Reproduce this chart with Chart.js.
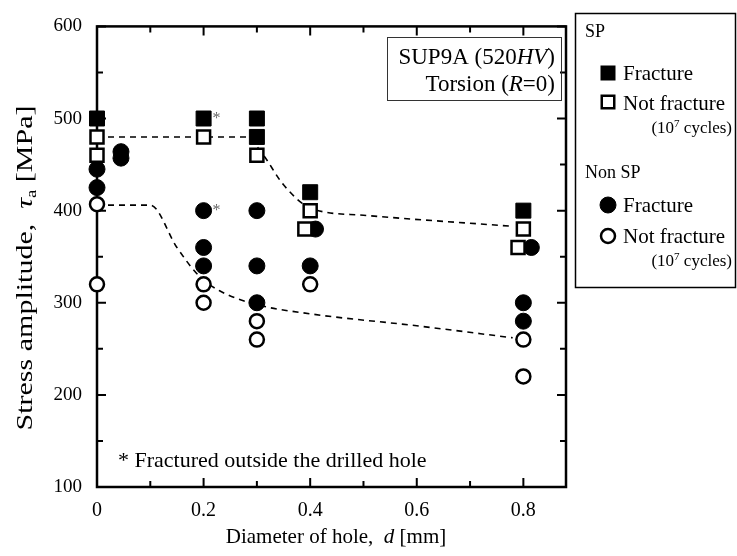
<!DOCTYPE html>
<html>
<head>
<meta charset="utf-8">
<script src="https://cdn.jsdelivr.net/npm/chart.js@4"></script>
<style>
  html, body { margin: 0; padding: 0; background: #fff; }
  #wrap { width: 737px; height: 556px; }
</style>
</head>
<body>
<div id="wrap"><canvas id="fatigueChart" width="737" height="556"></canvas></div>
<script>
// ---- data ----
// SP specimens
const spFracture = [
  { x: 0, y: 500 }, { x: 0.2, y: 500 }, { x: 0.3, y: 500 }, { x: 0.3, y: 480 },
  { x: 0.4, y: 420 }, { x: 0.8, y: 400 }
];
const spNotFracture = [
  { x: 0, y: 480 }, { x: 0, y: 460 }, { x: 0.2, y: 480 }, { x: 0.3, y: 460 },
  { x: 0.4, y: 400 }, { x: 0.39, y: 380 }, { x: 0.8, y: 380 }, { x: 0.79, y: 360 }
];
// Non SP specimens
const nonSpFracture = [
  { x: 0, y: 445 }, { x: 0, y: 425 }, { x: 0.045, y: 464 }, { x: 0.045, y: 457 },
  { x: 0.2, y: 400 }, { x: 0.2, y: 360 }, { x: 0.2, y: 340 },
  { x: 0.3, y: 400 }, { x: 0.3, y: 340 }, { x: 0.3, y: 300 },
  { x: 0.41, y: 380 }, { x: 0.4, y: 340 },
  { x: 0.815, y: 360 }, { x: 0.8, y: 300 }, { x: 0.8, y: 280 }
];
const nonSpNotFracture = [
  { x: 0, y: 407 }, { x: 0, y: 320 }, { x: 0.2, y: 320 }, { x: 0.2, y: 300 },
  { x: 0.3, y: 280 }, { x: 0.3, y: 260 }, { x: 0.4, y: 320 },
  { x: 0.8, y: 260 }, { x: 0.8, y: 220 }
];
// dashed fatigue-limit trend lines
const spLimitLine = [
  { x: 0, y: 480 }, { x: 0.28, y: 480 }, { x: 0.31, y: 462 }, { x: 0.35, y: 428 },
  { x: 0.4, y: 403 }, { x: 0.5, y: 395 }, { x: 0.78, y: 383 }
];
const nonSpLimitLine = [
  { x: 0, y: 406 }, { x: 0.1, y: 406 }, { x: 0.15, y: 360 }, { x: 0.19, y: 330 },
  { x: 0.23, y: 313 }, { x: 0.3, y: 298 }, { x: 0.4, y: 288 }, { x: 0.6, y: 275 },
  { x: 0.78, y: 262 }
];
// points marked with * (fractured outside the drilled hole)
const starredPoints = [{ x: 0.2, y: 500 }, { x: 0.2, y: 400 }];

const xTicks = [0, 0.2, 0.4, 0.6, 0.8];
const xMinorTicks = [0.1, 0.3, 0.5, 0.7];
const yTicks = [100, 200, 300, 400, 500, 600];
const yMinorTicks = [150, 250, 350, 450, 550];

const SERIF = '"Liberation Serif", "DejaVu Serif", serif';

// width of a run of text pieces: [text, fontSpec, dy]
function runsWidth(ctx, runs) {
  let total = 0;
  runs.forEach(r => { ctx.font = r[1]; total += ctx.measureText(r[0]).width; });
  return total;
}

function drawRuns(ctx, runs, x, y, align) {
  const total = runsWidth(ctx, runs);
  let cx = align === 'right' ? x - total : (align === 'center' ? x - total / 2 : x);
  runs.forEach(r => {
    ctx.font = r[1];
    ctx.fillText(r[0], cx, y + (r[2] || 0));
    cx += ctx.measureText(r[0]).width;
  });
}

function drawMarker(ctx, type, x, y) {
  ctx.save();
  ctx.strokeStyle = '#000';
  if (type === 'fsq') {
    ctx.fillStyle = '#000';
    ctx.fillRect(x - 7.5, y - 7.5, 15, 15);
  } else if (type === 'osq') {
    ctx.fillStyle = '#fff';
    ctx.lineWidth = 2.5;
    ctx.fillRect(x - 7.5, y - 7.5, 15, 15);
    ctx.strokeRect(x - 6.25, y - 6.25, 12.5, 12.5);
  } else {
    ctx.beginPath();
    ctx.arc(x, y, type === 'fci' ? 8 : 7, 0, Math.PI * 2);
    ctx.fillStyle = type === 'fci' ? '#000' : '#fff';
    ctx.lineWidth = type === 'fci' ? 1 : 2.5;
    ctx.fill();
    ctx.stroke();
  }
  ctx.restore();
}

// frame with inward ticks, drawn under the markers
const framePlugin = {
  id: 'frame',
  beforeDatasetsDraw(chart) {
    const { ctx, chartArea: a, scales: { x, y } } = chart;
    ctx.save();
    ctx.strokeStyle = '#000';
    ctx.lineWidth = 2.5;
    ctx.strokeRect(a.left, a.top, a.right - a.left, a.bottom - a.top);
    ctx.lineWidth = 2;
    ctx.beginPath();
    const tickX = (v, len) => {
      const px = x.getPixelForValue(v);
      ctx.moveTo(px, a.bottom); ctx.lineTo(px, a.bottom - len);
      ctx.moveTo(px, a.top); ctx.lineTo(px, a.top + len);
    };
    const tickY = (v, len) => {
      const py = y.getPixelForValue(v);
      ctx.moveTo(a.left, py); ctx.lineTo(a.left + len, py);
      ctx.moveTo(a.right, py); ctx.lineTo(a.right - len, py);
    };
    xTicks.forEach(v => tickX(v, 9));
    xMinorTicks.forEach(v => tickX(v, 6));
    yTicks.forEach(v => tickY(v, 9));
    yMinorTicks.forEach(v => tickY(v, 6));
    ctx.stroke();
    ctx.restore();
  },
  afterDraw(chart) {
    const { ctx, scales: { x, y } } = chart;
    ctx.save();
    ctx.fillStyle = '#000';
    ctx.textBaseline = 'alphabetic';

    // axis titles
    drawRuns(ctx, [
      ['Diameter of hole,  ', '21px ' + SERIF],
      ['d', 'italic 21px ' + SERIF],
      [' [mm]', '21px ' + SERIF]
    ], 336, 543, 'center');

    // y title: glyphs in the source are stretched along the text direction
    const yRuns = [
      ['Stress amplitude,  ', '24px ' + SERIF],
      ['\u03c4', 'italic 24px ' + SERIF],
      ['a', '15px ' + SERIF, 4],
      [' [MPa]', '24px ' + SERIF]
    ];
    const stretch = 325 / runsWidth(ctx, yRuns);
    ctx.save();
    ctx.translate(32, 268);
    ctx.rotate(-Math.PI / 2);
    ctx.scale(stretch, 1);
    drawRuns(ctx, yRuns, 0, 0, 'center');
    ctx.restore();

    // asterisks next to starred points
    ctx.fillStyle = '#666';
    ctx.font = '16px ' + SERIF;
    starredPoints.forEach(p => {
      ctx.fillText('*', x.getPixelForValue(p.x) + 9, y.getPixelForValue(p.y) + 4);
    });
    ctx.fillStyle = '#000';

    // footnote
    ctx.font = '22px ' + SERIF;
    ctx.fillText('* Fractured outside the drilled hole', 118, 467);

    // material box
    ctx.lineWidth = 1;
    ctx.strokeStyle = '#333';
    ctx.strokeRect(387.5, 37.5, 174, 63);
    drawRuns(ctx, [
      ['SUP9A (520', '23px ' + SERIF],
      ['HV', 'italic 23px ' + SERIF],
      [')', '23px ' + SERIF]
    ], 555, 64, 'right');
    drawRuns(ctx, [
      ['Torsion (', '23px ' + SERIF],
      ['R', 'italic 23px ' + SERIF],
      ['=0)', '23px ' + SERIF]
    ], 555, 91, 'right');

    // legend box
    ctx.lineWidth = 1.5;
    ctx.strokeStyle = '#000';
    ctx.strokeRect(575.5, 13.5, 160, 274);
    ctx.font = '18px ' + SERIF;
    ctx.fillText('SP', 585, 37);
    ctx.fillText('Non SP', 585, 178);
    const items = [
      ['fsq', 'Fracture', 73, 80, 0],
      ['osq', 'Not fracture', 102, 110, 133],
      ['fci', 'Fracture', 205, 212, 0],
      ['oci', 'Not fracture', 236, 243, 266]
    ];
    items.forEach(it => {
      drawMarker(ctx, it[0], 608, it[2]);
      ctx.font = '21px ' + SERIF;
      ctx.fillText(it[1], 623, it[3]);
      if (it[4]) {
        drawRuns(ctx, [
          ['(10', '17px ' + SERIF],
          ['7', '11px ' + SERIF, -6],
          [' cycles)', '17px ' + SERIF]
        ], 732, it[4], 'right');
      }
    });
    ctx.restore();
  }
};

const scatterCommon = { showLine: false, clip: false, borderColor: '#000' };

new Chart(document.getElementById('fatigueChart'), {
  type: 'scatter',
  data: {
    datasets: [
      Object.assign({ label: 'SP Fracture', data: spFracture, pointStyle: 'rect',
        pointRadius: 10.6, backgroundColor: '#000', borderWidth: 1 }, scatterCommon),
      Object.assign({ label: 'SP Not fracture', data: spNotFracture, pointStyle: 'rect',
        pointRadius: 9.2, backgroundColor: '#fff', borderWidth: 2.5 }, scatterCommon),
      Object.assign({ label: 'Non SP Not fracture', data: nonSpNotFracture, pointStyle: 'circle',
        pointRadius: 7, backgroundColor: '#fff', borderWidth: 2.5 }, scatterCommon),
      Object.assign({ label: 'Non SP Fracture', data: nonSpFracture, pointStyle: 'circle',
        pointRadius: 8, backgroundColor: '#000', borderWidth: 1 }, scatterCommon),
      { type: 'line', label: 'SP limit', data: spLimitLine, borderColor: '#000',
        borderWidth: 1.6, borderDash: [6, 5], pointRadius: 0, fill: false,
        cubicInterpolationMode: 'monotone' },
      { type: 'line', label: 'Non SP limit', data: nonSpLimitLine, borderColor: '#000',
        borderWidth: 1.6, borderDash: [6, 5], pointRadius: 0, fill: false,
        cubicInterpolationMode: 'monotone' }
    ]
  },
  options: {
    responsive: false,
    animation: false,
    devicePixelRatio: 1,
    layout: { padding: { left: 0, top: 17, right: 171, bottom: 0 } },
    plugins: { legend: { display: false }, tooltip: { enabled: false } },
    scales: {
      x: {
        type: 'linear',
        min: 0,
        max: 0.88,
        afterBuildTicks: s => { s.ticks = xTicks.map(v => ({ value: v })); },
        afterFit: s => { s.height = 69; },
        grid: { display: false, drawTicks: false },
        border: { display: false },
        ticks: {
          color: '#000',
          padding: 12,
          maxRotation: 0,
          font: { family: SERIF, size: 20 },
          callback: v => String(v)
        }
      },
      y: {
        type: 'linear',
        min: 100,
        max: 600,
        afterBuildTicks: s => { s.ticks = yTicks.map(v => ({ value: v })); },
        afterFit: s => { s.width = 97; },
        grid: { display: false, drawTicks: false },
        border: { display: false },
        ticks: {
          color: '#000',
          padding: 15,
          font: { family: SERIF, size: 19 }
        }
      }
    }
  },
  plugins: [framePlugin]
});
</script>
</body>
</html>
